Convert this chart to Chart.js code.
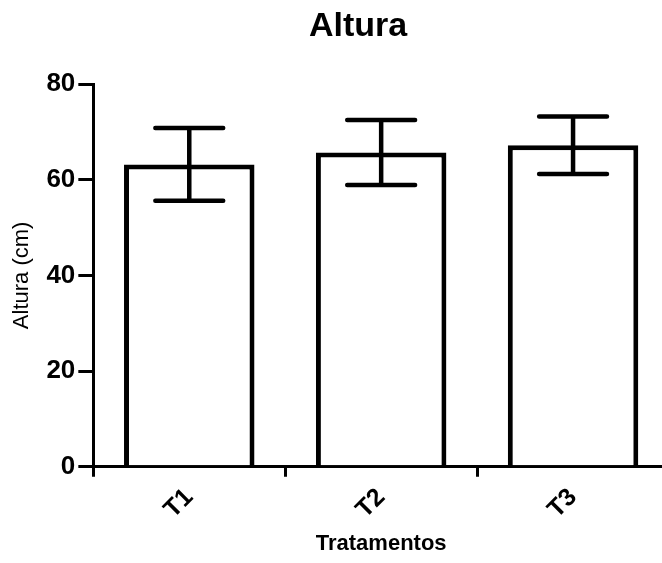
<!DOCTYPE html>
<html>
<head>
<meta charset="utf-8">
<script src="https://cdn.jsdelivr.net/npm/chart.js@4/dist/chart.umd.min.js"></script>
<style>
  html, body { margin: 0; padding: 0; background: #fff; overflow: hidden; }
  #wrap { width: 716px; height: 563px; }
</style>
</head>
<body>
<div id="wrap"><canvas id="chart" width="716" height="563"></canvas></div>
<script>
// data
const tratamentos = ['T1', 'T2', 'T3'];
const mediaAltura = [63.2, 65.7, 67.2];
const desvio = [7.6, 6.8, 6.0];
const yTicks = [0, 20, 40, 60, 80];
const titulo = 'Altura';

const FONT = "Arial, 'Liberation Sans', sans-serif";

// draw the error bars using the chart's scales
const errorBars = {
    id: 'errorBars',
    afterDatasetsDraw(chart) {
        const ctx = chart.ctx;
        const meta = chart.getDatasetMeta(0);
        const y = chart.scales.y;
        ctx.save();
        ctx.strokeStyle = '#000';
        ctx.lineWidth = 4.5;
        ctx.lineCap = 'round';
        meta.data.forEach((bar, i) => {
            const x = bar.x;
            const top = y.getPixelForValue(mediaAltura[i] + desvio[i]);
            const bot = y.getPixelForValue(mediaAltura[i] - desvio[i]);
            const half = bar.width * 0.26;
            ctx.beginPath();
            ctx.moveTo(x, top);
            ctx.lineTo(x, bot);
            ctx.moveTo(x - half, top);
            ctx.lineTo(x + half, top);
            ctx.moveTo(x - half, bot);
            ctx.lineTo(x + half, bot);
            ctx.stroke();
        });
        ctx.restore();
    }
};

// title centred on the canvas, not on the padded box
const centeredTitle = {
    id: 'centeredTitle',
    afterDraw(chart) {
        const ctx = chart.ctx;
        ctx.save();
        ctx.fillStyle = '#000';
        ctx.font = 'bold 34px ' + FONT;
        ctx.textAlign = 'center';
        ctx.textBaseline = 'middle';
        ctx.fillText(titulo, chart.width / 2, 27);
        ctx.restore();
    }
};

const ctx = document.getElementById('chart').getContext('2d');
new Chart(ctx, {
    type: 'bar',
    data: {
        labels: tratamentos,
        datasets: [{
            data: mediaAltura,
            backgroundColor: '#fff',
            borderColor: '#000',
            borderWidth: 5,
            categoryPercentage: 0.68,
            barPercentage: 1.0,
        }]
    },
    options: {
        responsive: false,
        animation: false,
        layout: { padding: { top: 84, right: 47, bottom: 4, left: 9 } },
        plugins: {
            legend: { display: false },
            tooltip: { enabled: false },
            title: { display: false }
        },
        scales: {
            x: {
                border: { color: '#000', width: 3 },
                grid: { drawOnChartArea: false, drawTicks: true, tickLength: 10, color: '#000', lineWidth: 3 },
                ticks: {
                    color: '#000',
                    minRotation: 45,
                    maxRotation: 45,
                    padding: 6,
                    font: { family: FONT, size: 25, weight: 'bold' }
                },
                title: {
                    display: true,
                    text: 'Tratamentos',
                    color: '#000',
                    font: { family: FONT, size: 22, weight: 'bold' },
                    padding: { top: 0, bottom: 2 }
                }
            },
            y: {
                min: 0,
                max: 80,
                afterBuildTicks: axis => { axis.ticks = yTicks.map(v => ({ value: v })); },
                border: { color: '#000', width: 3 },
                grid: { drawOnChartArea: false, drawTicks: true, tickLength: 15, color: '#000', lineWidth: 3 },
                ticks: {
                    color: '#000',
                    padding: 3,
                    font: { family: FONT, size: 26, weight: 'bold' }
                },
                title: {
                    display: true,
                    text: 'Altura (cm)',
                    color: '#000',
                    font: { family: FONT, size: 22 },
                    padding: { top: 0, bottom: 8 }
                }
            }
        }
    },
    plugins: [errorBars, centeredTitle]
});
</script>
</body>
</html>
